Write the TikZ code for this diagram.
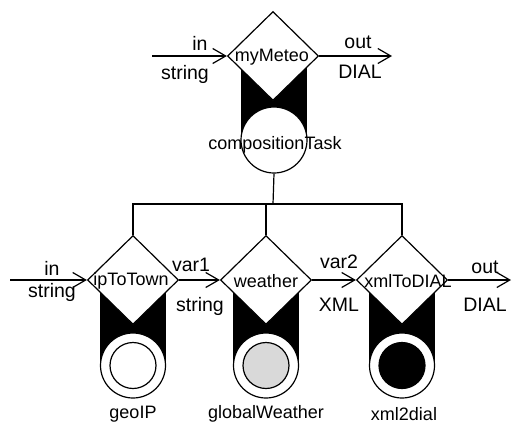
\documentclass[tikz,border=0pt]{standalone}
\usepackage{fontspec}
\setmainfont{Liberation Sans}
\usetikzlibrary{shapes.geometric,arrows.meta}
\begin{document}
\begin{tikzpicture}[x=1pt,y=-1pt,line width=1.2pt,
  dia/.style={diamond,draw,fill=white,minimum width=91pt,minimum height=89pt,inner sep=0pt},
  outc/.style={circle,draw,fill=white,minimum size=65pt,inner sep=0pt},
  inc/.style={circle,draw,minimum size=46pt,inner sep=0pt},
  lab/.style={font=\fontsize{18}{20}\selectfont,inner sep=0pt},
  port/.style={font=\fontsize{19.5}{22}\selectfont,inner sep=0pt},
  arr/.style={-{Straight Barb[length=13pt,width=15pt,line width=1.2pt]}}]
\useasboundingbox (0,0) rectangle (512,424);
% top composite
\fill (241,56) rectangle (307,140);
\node[dia] (m) at (273,56) {};
\node[lab] (mlab) at (272,57) {myMeteo};
\node[outc,minimum size=66pt] (ct) at (274,140) {};
\node[lab] (ctlab) at (275,145) {compositionTask};
\coordinate (tin) at (152,56);
\coordinate (tout) at (392,56);
\draw[arr] (tin) -- (m.west);
\draw[arr] (m.east) -- (tout);
\node[port] (tinl) at (200,43) {in};
\node[port] (tins) at (185,74) {string};
\node[port] (toutl) at (358,42) {out};
\node[port] (touts) at (360,72) {DIAL};
% bottom bands
\fill (100,280) rectangle (166,365.5);
\fill (233,280) rectangle (299,365.5);
\fill (369,280) rectangle (435,365.5);
\node[dia] (d1) at (133,280) {};
\node[dia] (d2) at (266,280) {};
\node[dia] (d3) at (402,280) {};
\node[lab] (l1) at (131,281) {ipToTown};
\node[lab] (l2) at (266,281) {weather};
\node[lab] (l3) at (408,281) {xmlToDIAL};
\node[outc] (o1) at (133,365.5) {};
\node[outc] (o2) at (266,365.5) {};
\node[outc] (o3) at (402,365.5) {};
\node[inc,fill=white] (i1) at (133,365.5) {};
\node[inc,fill=black!15] (i2) at (266,365.5) {};
\node[inc,fill=black] (i3) at (402,365.5) {};
\node[lab] (s1) at (133,414) {geoIP};
\node[lab] (s2) at (266,414) {globalWeather};
\node[lab] (s3) at (404,414) {xml2dial};
% tree connectors
\coordinate (j) at (273,204);
\draw (ct.south) -- (j);
\draw (d1.north) |- (j) -| (d3.north);
\draw (d2.north) -- (d2.north |- j);
% data arrows
\coordinate (bin) at (10,280);
\coordinate (bout) at (511,280);
\draw[arr] (bin) -- (d1.west);
\draw[arr] (d1.east) -- (d2.west);
\draw[arr] (d2.east) -- (d3.west);
\draw[arr] (d3.east) -- (bout);
\node[port] (bi1) at (52,268) {in};
\node[port] (bi2) at (52,292) {string};
\node[port] (v1a) at (191,265) {var1};
\node[port] (v1b) at (200,306) {string};
\node[port] (v2a) at (339,262) {var2};
\node[port] (v2b) at (339,305) {XML};
\node[port] (bo1) at (485,267) {out};
\node[port] (bo2) at (485,305) {DIAL};
\end{tikzpicture}
\end{document}
